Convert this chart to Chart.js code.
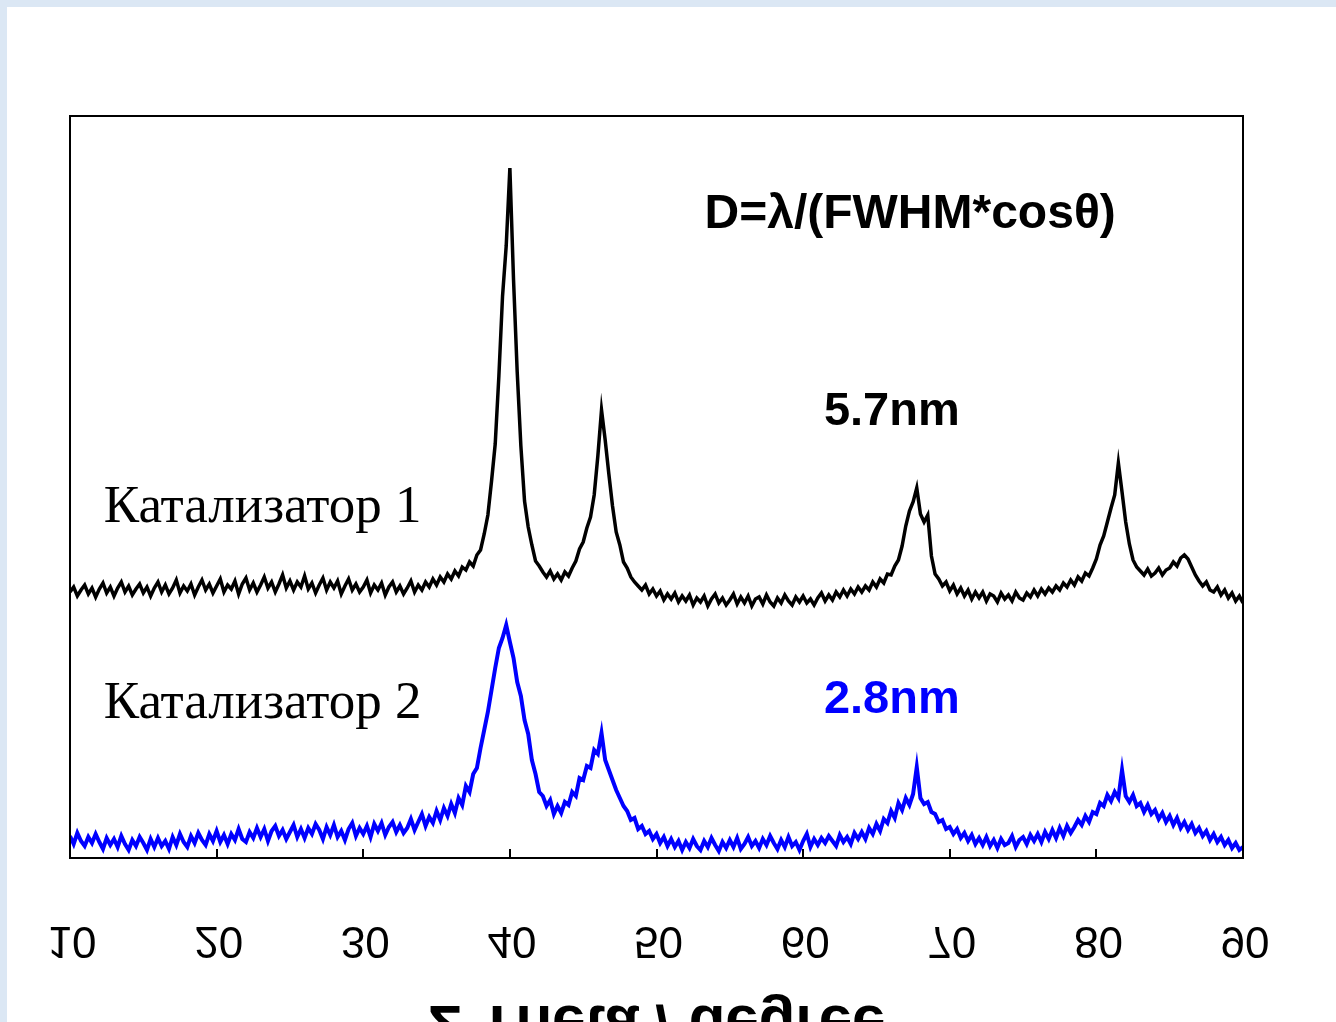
<!DOCTYPE html>
<html>
<head>
<meta charset="utf-8">
<script src="https://cdn.jsdelivr.net/npm/chart.js@4/dist/chart.umd.min.js"></script>
<style>
  body { margin: 0; background: #dbe7f4; }
  canvas { display: block; }
</style>
</head>
<body>
<canvas id="xrd" width="1336" height="1022"></canvas>
<script>
// scan grid (2 theta, degrees)
const angleStart = 10
const angleStep = 0.25
const xTicks = [10, 20, 30, 40, 50, 60, 70, 80, 90]

const seriesNames = ['Катализатор 1', 'Катализатор 2']
const sizeLabels = ['5.7nm', '2.8nm']
const formula = 'D=λ/(FWHM*cosθ)'
const axisTitle = '2 Theta / degree'

// intensity, arbitrary units (one row per degree)
const catalyst1 = [
  266, 271, 262, 268,
  273, 264, 270, 261,
  269, 275, 265, 271,
  262, 270, 276, 266,
  272, 263, 269, 274,
  265, 271, 262, 270,
  276, 266, 273, 264,
  270, 278, 265, 272,
  267, 274, 263, 271,
  278, 268, 274, 265,
  272, 279, 266, 273,
  269, 277, 264, 274,
  280, 268, 275, 266,
  273, 281, 270, 276,
  266, 274, 283, 270,
  277, 268, 276, 271,
  282, 269, 275, 265,
  273, 280, 268, 276,
  270, 277, 264, 272,
  279, 268, 274, 266,
  271, 278, 265, 273,
  268, 275, 263, 271,
  276, 266, 272, 264,
  270, 277, 266, 273,
  268, 276, 271, 279,
  273, 281, 276, 284,
  279, 287, 282, 291,
  288, 296, 292, 303,
  308, 324, 343, 377,
  414, 482, 562, 612,
  690, 578, 486, 412,
  357, 331, 313, 297,
  292, 286, 281, 287,
  279, 284, 278, 286,
  282, 290, 297, 309,
  316, 330, 341, 363,
  402, 448, 418, 384,
  352, 326, 313, 296,
  290, 281, 276, 272,
  268, 273, 264, 269,
  262, 267, 258, 264,
  259, 265, 256, 262,
  257, 263, 253, 260,
  256, 262, 252, 259,
  264, 255, 260, 253,
  258, 264, 254, 261,
  255, 262, 252, 259,
  261, 254, 263, 256,
  252, 260, 255, 263,
  257, 253, 261, 256,
  262, 255, 259, 253,
  260, 265, 257, 263,
  258, 266, 261, 268,
  262, 269, 264, 271,
  266, 272, 268, 276,
  271, 279, 275, 284,
  283, 292, 298, 312,
  332, 347, 356, 370,
  344, 336, 343, 302,
  284, 279, 272, 276,
  267, 273, 264, 270,
  262, 268, 259, 266,
  260, 266, 257, 264,
  262, 256, 265, 259,
  263, 257, 266, 260,
  258, 265, 261, 268,
  262, 269, 264, 270,
  266, 272, 268, 275,
  271, 278, 273, 281,
  277, 285, 282, 290,
  299, 313, 322, 336,
  350, 363, 395, 366,
  336, 314, 298, 291,
  287, 283, 289, 282,
  285, 290, 283, 288,
  290, 296, 292, 300,
  303, 299, 291, 283,
  277, 272, 276, 268,
  266, 271, 263, 268,
  260, 265, 257, 262,
  255
]

const catalyst2 = [
  22, 14, 25, 17,
  12, 21, 15, 24,
  16, 9, 20, 13,
  19, 11, 22, 14,
  8, 18, 12, 21,
  15, 8, 19, 11,
  20, 12, 17, 9,
  21, 13, 24, 16,
  11, 22, 15, 25,
  18, 13, 24, 17,
  27, 16, 23, 14,
  24, 18, 29, 19,
  16, 26, 20, 30,
  21, 29, 17, 27,
  32, 22, 28, 19,
  26, 33, 21, 29,
  20, 30, 24, 34,
  28, 19, 31, 23,
  33, 21, 27, 18,
  29, 35, 22, 30,
  24, 32, 21, 34,
  27, 35, 23, 31,
  36, 26, 33, 25,
  30, 39, 28, 36,
  44, 32, 41, 35,
  47, 38, 50, 42,
  54, 45, 60, 53,
  72, 66, 84, 90,
  110, 128, 146, 168,
  190, 210, 220, 233,
  216, 200, 176, 162,
  138, 124, 98, 84,
  66, 62, 52, 58,
  44, 52, 45, 56,
  53, 66, 62, 80,
  78, 92, 90, 108,
  104, 125, 98, 88,
  78, 68, 60, 52,
  47, 38, 40, 29,
  32, 24, 27, 19,
  24, 15, 21, 12,
  19, 11, 17, 8,
  16, 10, 19, 12,
  8, 17, 11, 20,
  13, 7, 16, 10,
  18, 11, 20, 9,
  14, 21, 12, 17,
  10, 19, 13, 22,
  15, 9, 18, 11,
  21, 12, 16, 8,
  17, 24, 11, 19,
  13, 20, 15, 22,
  17, 12, 23, 16,
  21, 14, 25, 19,
  26, 19, 30, 24,
  34, 27, 39, 35,
  47, 40, 55, 48,
  60, 53, 64, 91,
  60, 54, 56, 46,
  44, 36, 38, 29,
  31, 24, 29, 20,
  25, 17, 23, 14,
  20, 13, 21, 12,
  18, 10, 19, 13,
  15, 22, 11, 18,
  21, 14, 23, 17,
  24, 16, 26, 19,
  28, 20, 30, 22,
  32, 25, 31, 38,
  33, 42, 36, 46,
  44, 55, 52, 63,
  57, 66, 60, 88,
  62, 56, 63, 52,
  55, 46, 53, 44,
  48, 39, 45, 36,
  42, 33, 40, 30,
  36, 28, 34, 25,
  30, 22, 27, 18,
  24, 16, 21, 13,
  18, 10, 15, 8,
  11
]

function toPoints(arr) {
  return arr.map((v, i) => ({ x: angleStart + i * angleStep, y: v }))
}

// frame, box, inward ticks, flipped tick labels and the texts
const decor = {
  id: 'decor',
  beforeDraw(chart) {
    const ctx = chart.ctx
    ctx.save()
    ctx.fillStyle = '#dbe7f4'
    ctx.fillRect(0, 0, chart.width, chart.height)
    ctx.fillStyle = '#ffffff'
    ctx.fillRect(7, 7, chart.width - 7, chart.height - 7)
    ctx.restore()
  },
  afterDraw(chart) {
    const ctx = chart.ctx
    const a = chart.chartArea
    const xs = chart.scales.x
    const ys = chart.scales.y
    ctx.save()
    ctx.strokeStyle = '#000'
    ctx.lineWidth = 2
    ctx.strokeRect(a.left, a.top, a.right - a.left, a.bottom - a.top)

    ctx.beginPath()
    xTicks.forEach(t => {
      if (t === xTicks[0] || t === xTicks[xTicks.length - 1]) return
      const px = Math.round(xs.getPixelForValue(t))
      ctx.moveTo(px, a.bottom)
      ctx.lineTo(px, a.bottom - 9)
    })
    ctx.stroke()

    // tick labels come out upside down in the original
    ctx.fillStyle = '#000'
    ctx.font = '44px "Liberation Sans", Arial, sans-serif'
    ctx.textAlign = 'center'
    ctx.textBaseline = 'alphabetic'
    xTicks.forEach(t => {
      ctx.save()
      ctx.translate(xs.getPixelForValue(t) + 2, 927)
      ctx.scale(1, -1)
      ctx.fillText(String(t), 0, 0)
      ctx.restore()
    })
    ctx.save()
    ctx.font = 'bold 60px "Liberation Sans", Arial, sans-serif'
    ctx.translate(657, 1006)
    ctx.scale(1, -1)
    ctx.fillText(axisTitle, 0, 0)
    ctx.restore()

    ctx.font = 'bold 48px "Liberation Sans", Arial, sans-serif'
    ctx.textAlign = 'center'
    ctx.fillText(formula, xs.getPixelForValue(67.3), ys.getPixelForValue(630))
    ctx.font = 'bold 47px "Liberation Sans", Arial, sans-serif'
    ctx.fillText(sizeLabels[0], xs.getPixelForValue(66.05), ys.getPixelForValue(433))
    ctx.fillStyle = '#0000ff'
    ctx.fillText(sizeLabels[1], xs.getPixelForValue(66.05), ys.getPixelForValue(145))

    ctx.fillStyle = '#000'
    ctx.textAlign = 'left'
    ctx.font = '53px "Liberation Serif", "Times New Roman", serif'
    ctx.fillText(seriesNames[0], xs.getPixelForValue(12.3), ys.getPixelForValue(336))
    ctx.fillText(seriesNames[1], xs.getPixelForValue(12.3), ys.getPixelForValue(140))
    ctx.restore()
  }
}

new Chart('xrd', {
  type: 'line',
  data: {
    datasets: [{
      label: seriesNames[0],
      data: toPoints(catalyst1),
      borderColor: '#000000',
      borderWidth: 3.5
    }, {
      label: seriesNames[1],
      data: toPoints(catalyst2),
      borderColor: '#0000ff',
      borderWidth: 4
    }]
  },
  options: {
    responsive: false,
    animation: false,
    layout: {
      padding: { left: 70, right: 93, top: 116, bottom: 164 }
    },
    elements: {
      point: { radius: 0 },
      line: { tension: 0 }
    },
    scales: {
      x: { type: 'linear', min: 10, max: 90, display: false },
      y: { min: 0, max: 742, display: false }
    },
    plugins: {
      legend: { display: false },
      tooltip: { enabled: false }
    }
  },
  plugins: [decor]
})
</script>
</body>
</html>
